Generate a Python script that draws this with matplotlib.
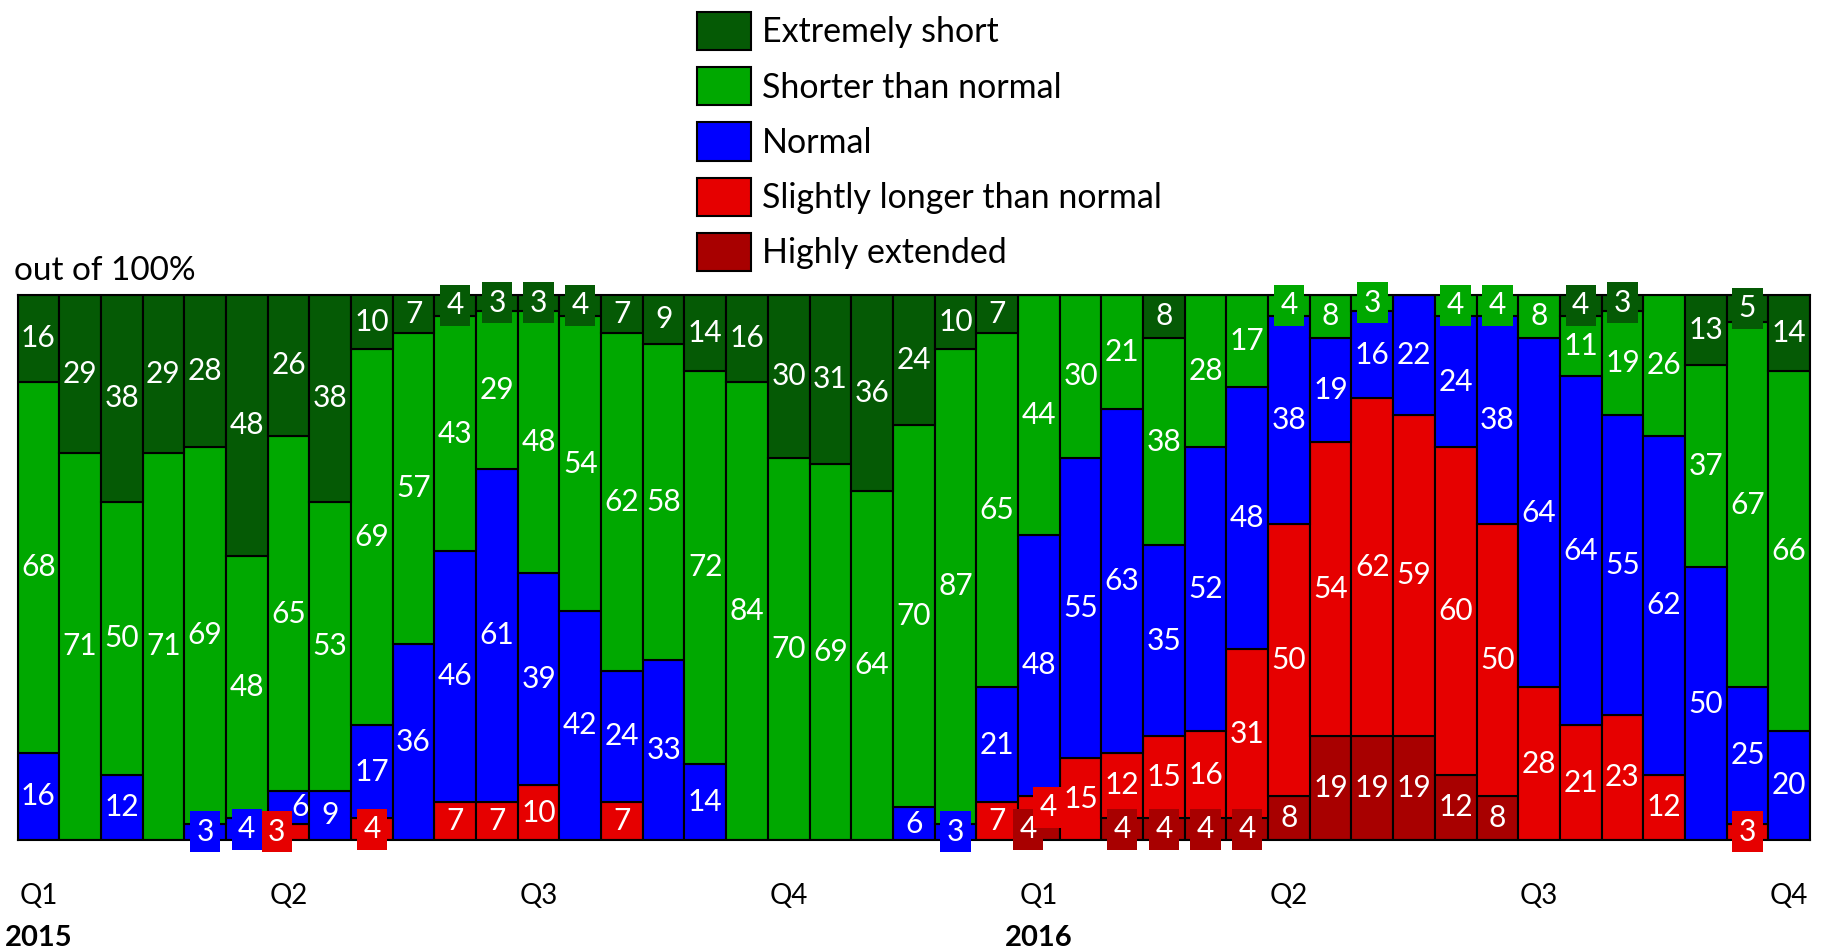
import matplotlib
matplotlib.use("Agg")
import matplotlib.pyplot as plt
from matplotlib.patches import Patch
import numpy as np

plt.rcParams['font.family'] = ['Lato', 'DejaVu Sans']

# Series values (percent), one per bar, bottom to top of stack
highly_ext = [0] * 24 + [4, 0, 4, 4, 4, 4, 8, 19, 19, 19, 12, 8, 0, 0, 0, 0, 0, 0, 0]
slightly = [0, 0, 0, 0, 0, 0, 3, 0, 4, 0, 7, 7, 10, 0, 7, 0, 0, 0, 0, 0,
            0, 0, 0, 7, 4, 15, 12, 15, 16, 31, 50, 54, 62, 59, 60, 50, 28, 21, 23, 12,
            0, 3, 0]
normal = [16, 0, 12, 0, 3, 4, 6, 9, 17, 36, 46, 61, 39, 42, 24, 33, 14, 0, 0, 0,
          0, 6, 3, 21, 48, 55, 63, 35, 52, 48, 38, 19, 16, 22, 24, 38, 64, 64, 55, 62,
          50, 25, 20]
shorter = [68, 71, 50, 71, 69, 48, 65, 53, 69, 57, 43, 29, 48, 54, 62, 58, 72, 84, 70, 69,
           64, 70, 87, 65, 44, 30, 21, 38, 28, 17, 4, 8, 3, 0, 4, 4, 8, 11, 19, 26,
           37, 67, 66]
extreme = [16, 29, 38, 29, 28, 48, 26, 38, 10, 7, 4, 3, 3, 4, 7, 9, 14, 16, 30, 31,
           36, 24, 10, 7, 0, 0, 0, 8, 0, 0, 0, 0, 0, 0, 0, 0, 0, 4, 3, 0,
           13, 5, 14]

series = [highly_ext, slightly, normal, shorter, extreme]
names = ['Highly extended', 'Slightly longer than normal', 'Normal',
         'Shorter than normal', 'Extremely short']
colors = ['#a80000', '#e60000', '#0000ff', '#00a800', '#055a05']

quarter_labels = ['Q1', 'Q2', 'Q3', 'Q4', 'Q1', 'Q2', 'Q3', 'Q4']
quarter_pos = [0, 6, 12, 18, 24, 30, 36, 42]
years = ['2015', '2016']
year_pos = [0, 24]

# horizontal nudges for overlapping labels: (bar, series index) -> shift in bar units
nudge = {(6, 2): 0.28, (6, 1): -0.28, (24, 0): -0.26, (24, 1): 0.22}

n = len(extreme)
x = np.arange(n)

fig = plt.figure(figsize=(18.25, 9.49), dpi=100)
ax = fig.add_axes([17.5 / 1825, 109 / 949, 1792.5 / 1825, 545.5 / 949])

bottom = np.zeros(n)
for vals, name, col in zip(series, names, colors):
    v = np.array(vals, dtype=float)
    ax.bar(x, v, bottom=bottom, width=1.0, color=col, edgecolor='black',
           linewidth=1.5, label=name)
    bottom += v

# data labels, small ones get a filled box so they show past the bar
si = 0
bottom = np.zeros(n)
for vals, col in zip(series, colors):
    for i, v in enumerate(vals):
        if v == 0:
            continue
        bb = None
        if v <= 5:
            bb = dict(boxstyle='square,pad=0.22', fc=col, ec='none')
        ax.text(i + nudge.get((i, si), 0), bottom[i] + v / 2, str(v), color='white',
                fontsize=21.5, ha='center', va='center', bbox=bb, zorder=5,
                clip_on=False)
    bottom += np.array(vals)
    si += 1

ax.set_xlim(-0.5, n - 0.5)
ax.set_ylim(0, 100)
ax.set_yticks([])
ax.set_xticks(quarter_pos)
ax.set_xticklabels(quarter_labels, fontsize=20)
ax.tick_params(axis='x', length=0, pad=31)
for s in ax.spines.values():
    s.set_linewidth(1.5)

trans = ax.get_xaxis_transform()
for yr, p in zip(years, year_pos):
    ax.text(p, -0.18, yr, transform=trans, fontsize=21, fontweight='bold',
            ha='center', va='center')

fig.text(14 / 1825, 1 - 271 / 949, 'out of 100%', fontsize=24, ha='left', va='center')

handles = [Patch(facecolor=c, edgecolor='black', linewidth=1.5, label=nm)
           for c, nm in zip(colors[::-1], names[::-1])]
fig.legend(handles=handles, loc='upper left', bbox_to_anchor=(697 / 1825, 1 - 12 / 949),
           frameon=False, fontsize=24.5, handlelength=1.58, handleheight=1.35,
           labelspacing=0.5, handletextpad=0.33, borderpad=0, borderaxespad=0)

fig.savefig('out.png', dpi=100)
